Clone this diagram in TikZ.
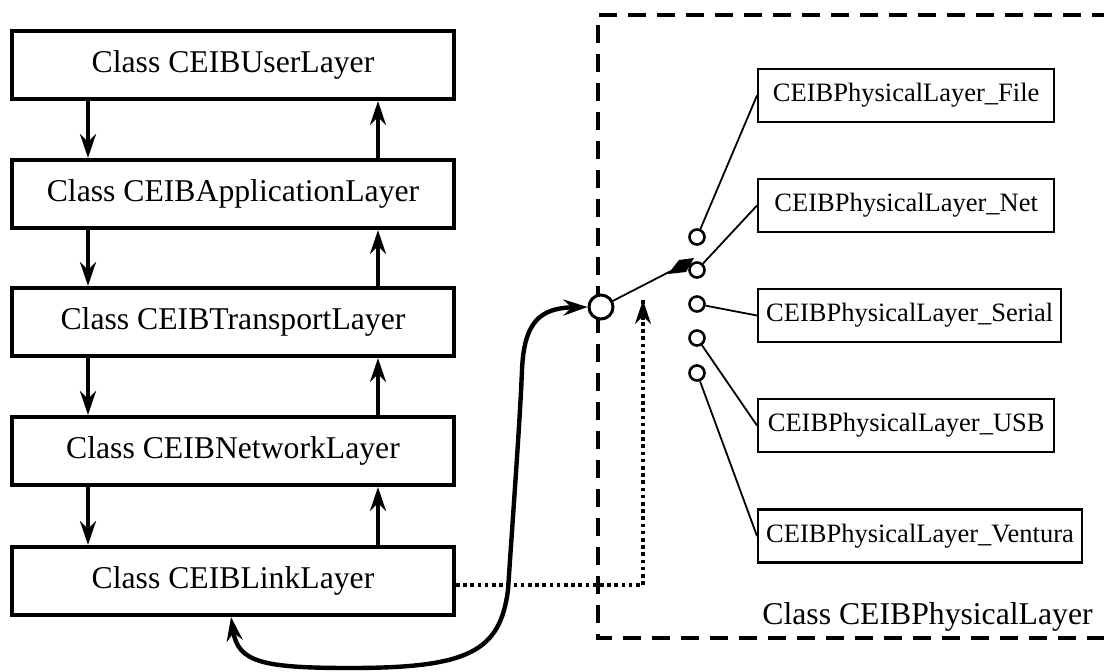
\documentclass[tikz,border=0pt]{standalone}
\usepackage{fontspec}
\setmainfont{Liberation Serif}
\usetikzlibrary{arrows.meta}
\begin{document}
\begin{tikzpicture}[x=0.5pt,y=-0.5pt,
  >={Stealth[length=12pt,width=8pt,inset=4pt]},
  layerbox/.style={draw, line width=2pt, minimum width=221pt, minimum height=34pt,
    inner sep=0pt, font=\fontsize{15.85}{18}\selectfont},
  physbox/.style={draw, line width=1.2pt, minimum width=148pt, minimum height=26.5pt,
    inner xsep=4pt, inner ysep=0pt, anchor=west, font=\fontsize{13.25}{15}\selectfont},
  flow/.style={->, line width=2pt},
  contact/.style={circle, draw, line width=1.3pt, fill=white, minimum size=7.5pt, inner sep=0pt},
  hub/.style={circle, draw, line width=1.5pt, fill=white, minimum size=12pt, inner sep=0pt},
  wire/.style={line width=0.9pt},
  frame/.style={line width=2.4pt, dash pattern=on 9pt off 5.5pt},
  dots/.style={line width=2.2pt, dash pattern=on 1.8pt off 1.8pt}]
\useasboundingbox (0,0) rectangle (1104,671);

% protocol stack
\node[layerbox] (u) at (233,65)  {Class CEIBUserLayer};
\node[layerbox] (a) at (233,194) {Class CEIBApplicationLayer};
\node[layerbox] (t) at (233,322) {Class CEIBTransportLayer};
\node[layerbox] (n) at (233,451) {Class CEIBNetworkLayer};
\node[layerbox] (l) at (233,581) {Class CEIBLinkLayer};

\coordinate (dn) at (88,0);
\coordinate (up) at (378,0);
\foreach \hi/\lo in {u/a,a/t,t/n,n/l}{
  \draw[flow] (\hi.south -| dn) -- (\lo.north -| dn);
  \draw[flow] (\lo.north -| up) -- (\hi.south -| up);
}

% physical layer frame
\draw[frame] (1110,15) -- (598,15) -- (598,638) -- (1110,638);
\node[anchor=base east, inner sep=0pt, font=\fontsize{15.85}{18}\selectfont] (plabel) at (1093,624) {Class CEIBPhysicalLayer};

% physical implementations
\node[physbox] (pf) at (757,95.5)  {CEIBPhysicalLayer\_File};
\node[physbox] (pn) at (757,205.5) {CEIBPhysicalLayer\_Net};
\node[physbox] (ps) at (757,315.5) {CEIBPhysicalLayer\_Serial};
\node[physbox] (pu) at (757,425.5) {CEIBPhysicalLayer\_USB};
\node[physbox] (pv) at (757,536)   {CEIBPhysicalLayer\_Ventura};

% selector switch
\node[hub] (sw) at (601,307) {};
\node[contact] (c1) at (697,237) {};
\node[contact] (c2) at (697,270) {};
\node[contact] (c3) at (697,304) {};
\node[contact] (c4) at (697,338) {};
\node[contact] (c5) at (697,373) {};
\draw[wire] (c1) -- (pf.west);
\draw[wire] (c2) -- (pn.west);
\draw[wire] (c3) -- (ps.west);
\draw[wire] (c4) -- (pu.west);
\draw[wire] (c5) -- (pv.west);

\coordinate (arm) at (671,271);
\draw[wire] (sw) -- (arm);
\fill (668,274) -- (679,260) -- (694,258) -- (686,272) -- cycle;

% control path (dotted) to the switch
\coordinate (ctl) at (643,300);
\draw[dots] ([yshift=-2pt]l.east) -| (ctl);
\draw[->, line width=1.8pt] (643,320) -- (ctl);

% data path between link layer and switch
\coordinate (cl) at (231,0);
\draw[<->, line width=2.2pt]
  (l.south -| cl) .. controls (238,662) and (262,668) .. (350,668)
  .. controls (468,668) and (500,652) .. (508,590)
  .. controls (514,500) and (520,420) .. (522,370)
  .. controls (524,322) and (540,308) .. (sw.west);
\end{tikzpicture}
\end{document}
